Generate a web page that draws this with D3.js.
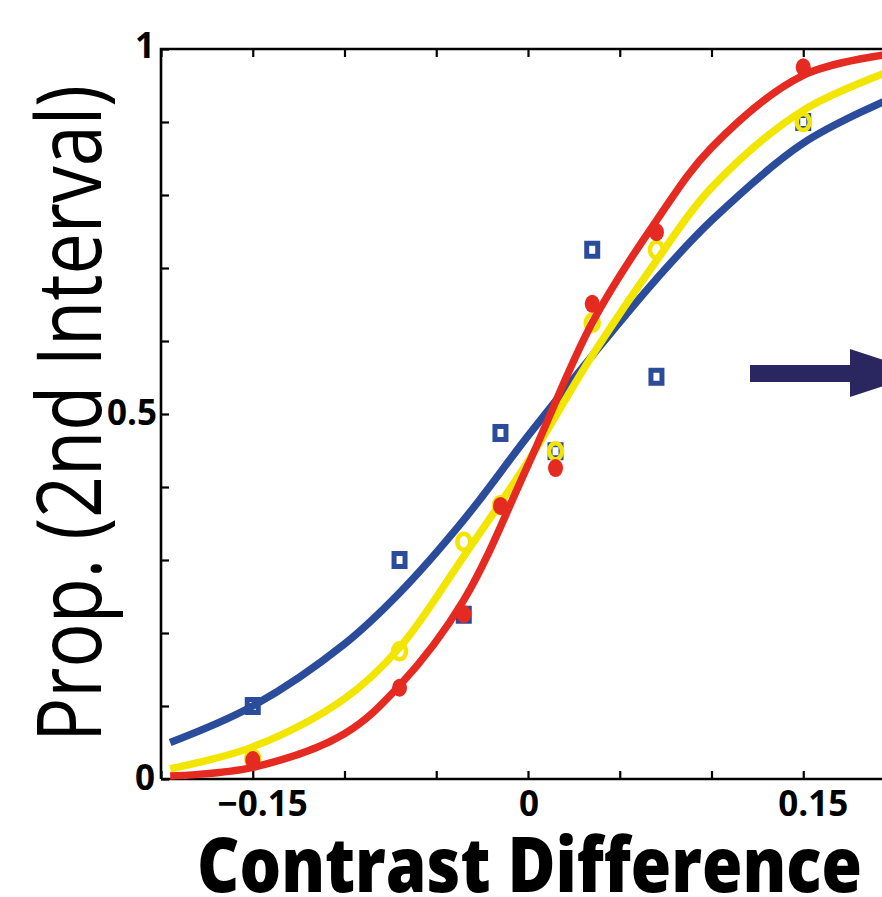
<!DOCTYPE html>
<html>
<head>
<meta charset="utf-8">
<script src="https://cdn.jsdelivr.net/npm/d3@7"></script>
<style>
  body { margin: 0; background: #fff; }
  svg { display: block; }
</style>
</head>
<body>
<script>
// measured points (contrast difference, proportion "2nd interval")
var xVals = [-0.15, -0.07, -0.035, -0.015, 0.015, 0.035, 0.07, 0.15];
var blueVals = [0.10, 0.30, 0.225, 0.474, 0.449, 0.725, 0.551, 0.90];
var yellowVals = [0.028, 0.175, 0.325, 0.375, 0.449, 0.625, 0.725, 0.90];
var redVals = [0.026, 0.125, 0.226, 0.374, 0.426, 0.651, 0.749, 0.975];

// fitted curves
var curveX = [-0.195, -0.15, -0.1, -0.07, -0.035, 0, 0.035, 0.07, 0.1, 0.15, 0.2];
var blueCurve = [0.05, 0.10, 0.185, 0.255, 0.355, 0.47, 0.58, 0.685, 0.765, 0.871, 0.935];
var yellowCurve = [0.014, 0.044, 0.11, 0.18, 0.305, 0.435, 0.58, 0.71, 0.81, 0.916, 0.972];
var redCurve = [0.004, 0.016, 0.062, 0.128, 0.245, 0.43, 0.625, 0.765, 0.865, 0.964, 0.994];

var xTicks = [-0.2, -0.15, -0.1, -0.05, 0, 0.05, 0.1, 0.15, 0.2];
var xLabelVals = [-0.15, 0, 0.15];
var xLabels = ['\u22120.15', '0', '0.15'];
var yTicks = [0, 0.1, 0.2, 0.3, 0.4, 0.5, 0.6, 0.7, 0.8, 0.9, 1];
var yLabelVals = [0, 0.5, 1];
var yLabels = ['0', '0.5', '1'];

var blue = '#2b4c9b', yellow = '#f2e600', red = '#e52a21';
var svgWidth = 882, svgHeight = 897;

var svg = d3.select('body').append('svg')
  .attr('width', svgWidth).attr('height', svgHeight);

var x = d3.scaleLinear().domain([-0.2, 0.2]).range([161, 895]);
var y = d3.scaleLinear().domain([0, 1]).range([779, 49]);

/*
 * axes (ticks point inward, box on top)
 */
function styleAxis(g) {
  g.select('.domain').remove();
  g.selectAll('.tick line').attr('stroke', '#000').attr('stroke-width', 2.2);
}

svg.append('g').attr('transform', 'translate(0,779)')
  .call(d3.axisBottom(x).tickValues(xTicks).tickSize(-8).tickFormat(''))
  .call(styleAxis);
svg.append('g').attr('transform', 'translate(0,49)')
  .call(d3.axisTop(x).tickValues(xTicks).tickSize(-8).tickFormat(''))
  .call(styleAxis);
svg.append('g').attr('transform', 'translate(161,0)')
  .call(d3.axisLeft(y).tickValues(yTicks).tickSize(-8).tickFormat(''))
  .call(styleAxis);

svg.append('path')
  .attr('d', 'M' + x(-0.2) + ',' + y(0) + 'H' + x(0.2) + 'M' + x(-0.2) + ',' + y(0) + 'V' + y(1) + 'H' + x(0.2))
  .attr('fill', 'none').attr('stroke', '#000').attr('stroke-width', 2.6);

// tick labels
svg.selectAll('.xlab').data(xLabelVals).enter().append('text')
  .attr('class', 'xlab')
  .attr('x', function(d){ return x(d) + (d === 0 ? 1 : 10) })
  .attr('y', 816)
  .attr('text-anchor', 'middle')
  .style('font', '700 35px "Open Sans"')
  .text(function(d, i){ return xLabels[i] });

svg.selectAll('.ylab').data(yLabelVals).enter().append('text')
  .attr('class', 'ylab')
  .attr('x', function(d){ return d === 0.5 ? 157 : 155 })
  .attr('y', function(d){ return y(d) + 11 - (d === 1 ? 2 : 0) })
  .attr('text-anchor', 'end')
  .style('font', '700 35px "Open Sans"')
  .text(function(d, i){ return yLabels[i] });

// axis titles
svg.append('text')
  .attr('x', 197).attr('y', 892)
  .attr('textLength', 665).attr('lengthAdjust', 'spacingAndGlyphs')
  .style('font', '800 76px "Open Sans"')
  .text('Contrast Difference');

svg.append('text')
  .attr('transform', 'translate(101,742) rotate(-90)')
  .attr('x', 0).attr('y', 0)
  .attr('textLength', 657).attr('lengthAdjust', 'spacingAndGlyphs')
  .style('font', '400 90px "Open Sans"')
  .text('Prop. (2nd Interval)');

/*
 * curves + markers
 */
var line = d3.line()
  .x(function(d){ return x(d[0]) })
  .y(function(d){ return y(d[1]) })
  .curve(d3.curveCatmullRom.alpha(0.5));

function drawCurve(vals, color) {
  svg.append('path')
    .datum(d3.zip(curveX, vals))
    .attr('d', line)
    .attr('fill', 'none')
    .attr('stroke', color)
    .attr('stroke-width', 7.5);
}

drawCurve(blueCurve, blue);
svg.append('g').selectAll('rect').data(d3.zip(xVals, blueVals)).enter().append('rect')
  .attr('x', function(d){ return x(d[0]) - 5.5 })
  .attr('y', function(d){ return y(d[1]) - 6.5 })
  .attr('width', 11).attr('height', 13)
  .attr('fill', 'none').attr('stroke', blue).attr('stroke-width', 5);

drawCurve(yellowCurve, yellow);
svg.append('g').selectAll('ellipse').data(d3.zip(xVals, yellowVals)).enter().append('ellipse')
  .attr('cx', function(d){ return x(d[0]) })
  .attr('cy', function(d){ return y(d[1]) })
  .attr('rx', 6.5).attr('ry', 8)
  .attr('fill', 'none').attr('stroke', yellow).attr('stroke-width', 4.5);

drawCurve(redCurve, red);
svg.append('g').selectAll('ellipse').data(d3.zip(xVals, redVals)).enter().append('ellipse')
  .attr('cx', function(d){ return x(d[0]) })
  .attr('cy', function(d){ return y(d[1]) })
  .attr('rx', 7.5).attr('ry', 9)
  .attr('fill', red);

// arrow on the right
svg.append('path')
  .attr('d', 'M750,365H850V349L924,373L850,397V382H750Z')
  .attr('fill', '#2a2660');
</script>
</body>
</html>
